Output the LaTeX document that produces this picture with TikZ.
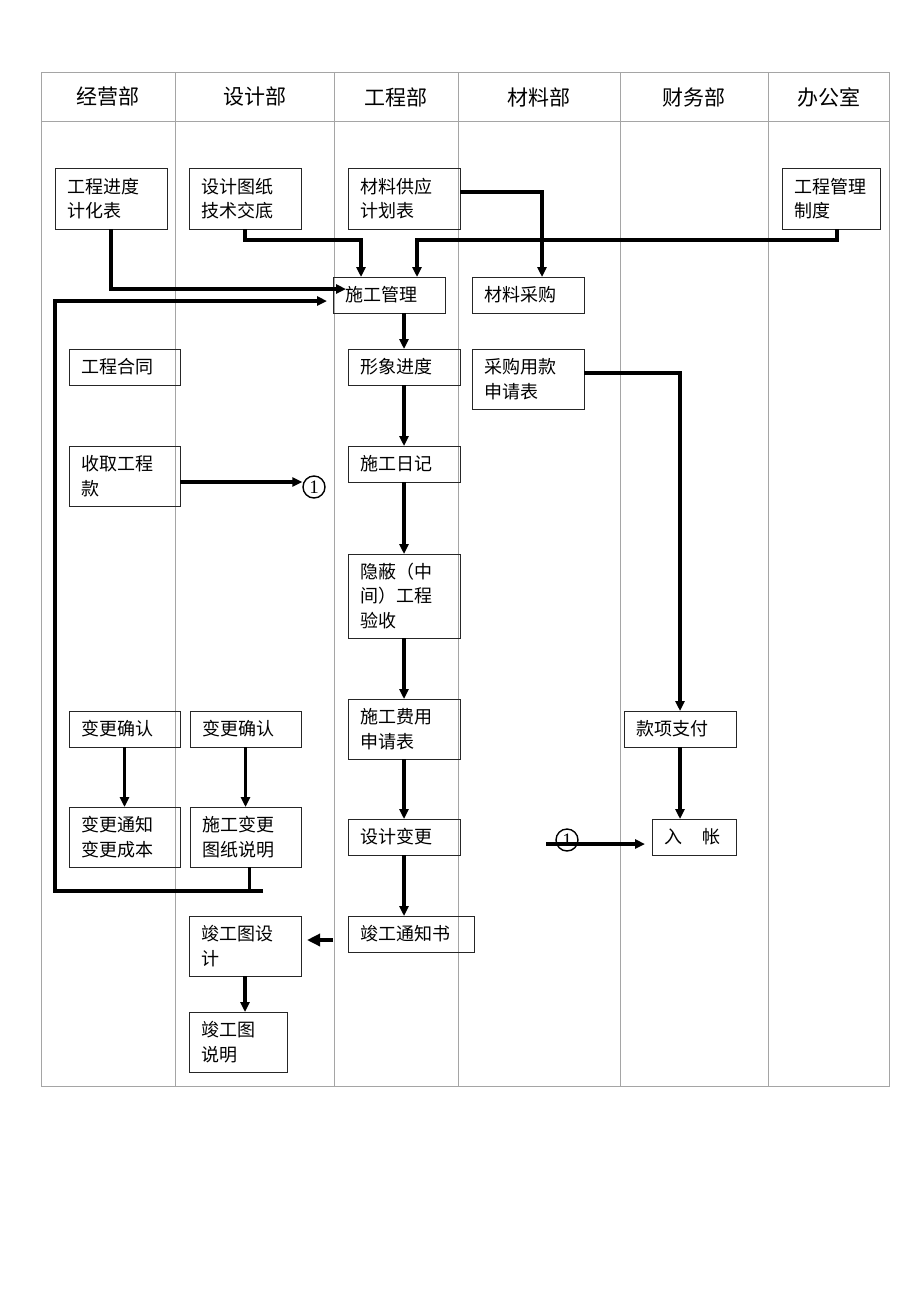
\documentclass[tikz,border=0pt]{standalone}
\usepackage{fontspec}
\setmainfont{Noto Sans CJK SC}
\newfontfamily\serifdigit{Liberation Serif}
\usetikzlibrary{arrows.meta}
\definecolor{grid}{RGB}{165,165,165}
\begin{document}
\begin{tikzpicture}[x=1pt,y=-1pt,
  box/.style={draw=black!85, line width=1pt, anchor=north west, inner xsep=12pt, inner ysep=0pt,
    outer sep=0pt, align=left, font=\fontsize{18}{24.5}\selectfont},
  hdr/.style={font=\fontsize{21}{24}\selectfont},
  conn/.style={line width=3.3pt, -{Triangle[length=10pt,width=9pt]}},
  plain/.style={line width=3.3pt},
  circ/.style={draw, circle, line width=1.4pt, minimum size=22pt, inner sep=0pt, font=\serifdigit\fontsize{19}{19}\selectfont}]
\useasboundingbox (0,0) rectangle (920,1302);
\fill[white] (0,0) rectangle (920,1302);
% table
\draw[grid, line width=1pt] (41,72) rectangle (889,1086);
\draw[grid, line width=1pt] (41,121) -- (889,121);
\foreach \xx in {175,334,458,620,768} \draw[grid, line width=1pt] (\xx,72) -- (\xx,1086);
\node[hdr] (h1) at (108,97) {经营部};
\node[hdr] (h2) at (255,97) {设计部};
\node[hdr] (h3) at (396,97) {工程部};
\node[hdr] (h4) at (539,97) {材料部};
\node[hdr] (h5) at (694,97) {财务部};
\node[hdr] (h6) at (829,97) {办公室};
% boxes
\node[box, text width=88pt, minimum height=61pt] (jd) at (55,168) {工程进度\\计化表};
\node[box, text width=88pt, minimum height=61pt] (sj) at (189,168) {设计图纸\\技术交底};
\node[box, text width=88pt, minimum height=61pt] (cl) at (348,168) {材料供应\\计划表};
\node[box, text width=74pt, minimum height=61pt] (zd) at (782,168) {工程管理\\制度};
\node[box, text width=88pt, minimum height=36pt] (sg) at (333,277) {施工管理};
\node[box, text width=88pt, minimum height=36pt] (cg) at (472,277) {材料采购};
\node[box, text width=87pt, minimum height=36pt] (ht) at (69,349) {工程合同};
\node[box, text width=88pt, minimum height=36pt] (xx) at (348,349) {形象进度};
\node[box, text width=88pt, minimum height=60pt] (cy) at (472,349) {采购用款\\申请表};
\node[box, text width=87pt, minimum height=60pt] (sq) at (69,446) {收取工程\\款};
\node[box, text width=88pt, minimum height=36pt] (rj) at (348,446) {施工日记};
\node[box, text width=88pt, minimum height=84pt] (yb) at (348,554) {隐蔽（中\\间）工程\\验收};
\node[box, text width=87pt, minimum height=36pt] (bq1) at (69,711) {变更确认};
\node[box, text width=87pt, minimum height=36pt] (bq2) at (190,711) {变更确认};
\node[box, text width=88pt, minimum height=60pt] (fy) at (348,699) {施工费用\\申请表};
\node[box, text width=88pt, minimum height=36pt] (kx) at (624,711) {款项支付};
\node[box, text width=87pt, minimum height=60pt] (bt) at (69,807) {变更通知\\变更成本};
\node[box, text width=87pt, minimum height=60pt] (sb) at (190,807) {施工变更\\图纸说明};
\node[box, text width=88pt, minimum height=36pt] (bg) at (348,819) {设计变更};
\node[box, text width=60pt, minimum height=36pt] (rz) at (652,819) {入\hspace{20pt}帐};
\node[box, text width=102pt, minimum height=36pt] (tz) at (348,916) {竣工通知书};
\node[box, text width=88pt, minimum height=60pt] (jg) at (189,916) {竣工图设\\计};
\node[box, text width=74pt, minimum height=60pt] (js) at (189,1012) {竣工图\\说明};
% circles
\node[circ] (c1) at (314,487) {1};
\node[circ] (c2) at (567,840) {1};
% connectors
\draw[conn] (jd.south) |- ([shift={(13pt,6pt)}]sg.west);
\draw[conn] (sj.south) -- ++(0,11) -| ([xshift=-28pt]sg.north);
\draw[conn] ([xshift=6pt]zd.south) -- ++(0,11) -| ([xshift=28pt]sg.north);
\draw[conn] ([yshift=6.5pt]cl.east) -| ([xshift=14pt]cg.north);
\coordinate (L1) at (263,891);
\draw[plain] ([xshift=4pt]sb.south) -- ++(0,24);
\draw[conn] (L1) -- (55,891) |- ([shift={(-6pt,-6pt)}]sg.west);
\draw[conn] (sg.south -| xx.north) -- (xx.north);
\draw[conn] (xx.south) -- (rj.north);
\draw[conn] (rj.south) -- (yb.north);
\draw[conn] (yb.south) -- (fy.north);
\draw[conn] (fy.south) -- (bg.north);
\draw[conn] (bg.south) -- (bg.south |- tz.north);
\coordinate (T1) at ([shift={(-15pt,-6pt)}]tz.west);
\draw[line width=3.5pt, -{Triangle[length=13pt,width=12pt]}] (T1) -- ++(-26,0);
\draw[conn] (jg.south) -- (jg.south |- js.north);
\draw[conn] (bq1.south) -- (bt.north);
\draw[conn] (bq2.south) -- (sb.north);
\draw[conn] ([yshift=6pt]cy.east) -| (kx.north);
\draw[conn] (kx.south) -- (kx.south |- rz.north);
\draw[conn] ([yshift=-6pt]sq.east) -- ([yshift=-6pt]sq.east -| c1.west);
\coordinate (C2a) at ([shift={(-9pt,-4pt)}]c2.west);
\coordinate (C2b) at ([shift={(-7pt,-7pt)}]rz.west);
\draw[conn] (C2a) -- (C2a -| C2b);
\end{tikzpicture}
\end{document}
